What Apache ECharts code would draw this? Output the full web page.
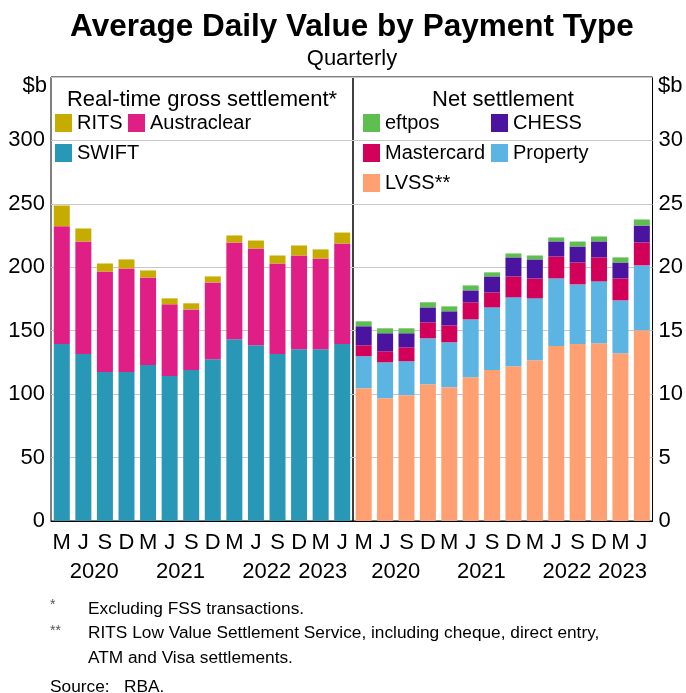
<!DOCTYPE html>
<html>
<head>
<meta charset="utf-8">
<script src="https://cdn.jsdelivr.net/npm/echarts@6/dist/echarts.min.js"></script>
<style>
  html, body { margin: 0; padding: 0; background: #fff; }
  #chart { width: 686px; height: 693px; }
</style>
</head>
<body>
<div id="chart"></div>
<script>
// quarters, Mar 2020 .. Jun 2023
const quarters = ["M", "J", "S", "D", "M", "J", "S", "D", "M", "J", "S", "D", "M", "J"];
const years = ["2020", "2021", "2022", "2023"];
const yearPos = [2, 6, 10, 12.6]; // position of year labels along the quarter axis

// real-time gross settlement, $b (left axis)
const swift = [139.6, 131.7, 117.5, 117.5, 123.0, 114.4, 119.1, 127.5, 143.2, 138.5, 131.7, 135.4, 135.4, 139.6];
const austraclear = [92.8, 88.7, 79.2, 81.6, 69.0, 56.4, 47.7, 60.6, 76.4, 76.3, 71.3, 73.9, 71.6, 79.2];
const rits = [16.3, 10.2, 6.3, 7.1, 5.5, 4.7, 4.8, 4.7, 5.5, 6.3, 6.3, 7.9, 7.1, 8.6];

// net settlement, $b (right axis)
const lvss = [10.47, 9.68, 9.92, 10.78, 10.55, 11.33, 11.91, 12.20, 12.67, 13.80, 13.96, 14.01, 13.22, 15.03];
const property = [2.52, 2.83, 2.67, 3.62, 3.54, 4.57, 4.93, 5.43, 4.88, 5.32, 4.69, 4.88, 4.17, 5.12];
const mastercard = [0.86, 0.87, 1.10, 1.26, 1.33, 1.34, 1.18, 1.65, 1.57, 1.73, 1.73, 1.89, 1.73, 1.81];
const chess = [1.50, 1.42, 1.11, 1.18, 1.11, 0.94, 1.26, 1.50, 1.50, 1.19, 1.26, 1.26, 1.26, 1.33];
const eftpos = [0.39, 0.39, 0.39, 0.40, 0.39, 0.39, 0.32, 0.31, 0.31, 0.31, 0.39, 0.39, 0.40, 0.48];

const FONT = "Liberation Sans, Arial, sans-serif";
const chart = echarts.init(document.getElementById("chart"));

function quarterAxis(gi) {
  return {
    type: "category",
    gridIndex: gi,
    data: quarters,
    axisLine: { lineStyle: { color: "#000", width: 1 } },
    axisTick: { inside: true, length: 4, lineStyle: { color: "#555" } },
    axisLabel: { interval: 0, fontSize: 22, color: "#000", fontFamily: FONT, margin: 11 },
    splitLine: { show: false },
  };
}

function yearAxis(gi) {
  return {
    type: "value",
    gridIndex: gi,
    min: 0,
    max: 14,
    interval: 0.2,
    position: "bottom",
    offset: 29,
    axisLine: { show: false },
    axisTick: { show: false },
    splitLine: { show: false },
    axisLabel: {
      fontSize: 22,
      color: "#000",
      fontFamily: FONT,
      margin: 11,
      formatter: function (v) {
        for (let i = 0; i < yearPos.length; i++) {
          if (Math.abs(v - yearPos[i]) < 0.05) return years[i];
        }
        return "";
      },
    },
  };
}

function valueAxis(gi, max, step, pos) {
  return {
    type: "value",
    gridIndex: gi,
    min: 0,
    max: max,
    interval: step,
    position: pos,
    axisLine: { show: false },
    axisTick: { show: false },
    axisLabel: {
      fontSize: 22,
      color: "#000",
      fontFamily: FONT,
      margin: 6,
      formatter: function (v) { return v >= max ? "" : v; },
    },
    splitLine: { lineStyle: { color: "#c8c8c8", width: 1 } },
  };
}

function bars(name, data, color, gi) {
  return {
    name: name,
    type: "bar",
    stack: "s" + gi,
    xAxisIndex: gi,
    yAxisIndex: gi,
    data: data,
    barWidth: 16,
    itemStyle: { color: color },
    emphasis: { disabled: true },
  };
}

const legendText = { fontSize: 20, color: "#000", fontFamily: FONT };
function legend(left, top, data) {
  return {
    left: left, top: top, orient: "vertical",
    data: data, icon: "rect", itemWidth: 17, itemHeight: 18,
    itemGap: 10, textStyle: legendText, padding: 0, selectedMode: false,
  };
}

function txt(text, left, top, size, extra) {
  return Object.assign({
    text: text, left: left, top: top, padding: 0,
    textStyle: { fontSize: size, lineHeight: size + 4, fontWeight: "normal", color: "#000", fontFamily: FONT },
  }, extra || {});
}

const noteStyle = (lh) => ({ fontSize: 17.3, lineHeight: lh, fontWeight: "normal", color: "#000", fontFamily: FONT });
const markStyle = { fontSize: 14, fontWeight: "normal", color: "#555", fontFamily: FONT };

const option = {
  animation: false,
  title: [
    txt("Average Daily Value by Payment Type", 352, 9, 31, { textAlign: "center",
      textStyle: { fontSize: 31.5, lineHeight: 36, fontWeight: "bold", color: "#000", fontFamily: FONT } }),
    txt("Quarterly", 352, 46, 22, { textAlign: "center" }),
    txt("Real-time gross settlement*", 202, 87, 22, { textAlign: "center" }),
    txt("Net settlement", 503, 87, 22, { textAlign: "center" }),
    txt("*", 50, 598, 14, { textStyle: markStyle }),
    txt("Excluding FSS transactions.", 88, 598, 17, { textStyle: noteStyle(22) }),
    txt("**", 50, 624, 14, { textStyle: markStyle }),
    txt("RITS Low Value Settlement Service, including cheque, direct entry,\nATM and Visa settlements.", 88, 621, 17, { textStyle: noteStyle(25) }),
    txt("Source:   RBA.", 50, 676, 17, { textStyle: noteStyle(22) }),
  ],
  graphic: [
    { type: "text", x: 47, y: 86, style: { text: "$b", align: "right", verticalAlign: "middle", fontSize: 22, fontFamily: FONT, fill: "#000" } },
    { type: "text", x: 658, y: 86, style: { text: "$b", align: "left", verticalAlign: "middle", fontSize: 22, fontFamily: FONT, fill: "#000" } },
  ],
  legend: [
    legend(55, 113, ["RITS", "SWIFT"]),
    legend(128, 113, ["Austraclear"]),
    legend(363, 113, ["eftpos", "Mastercard", "LVSS**"]),
    legend(491, 113, ["CHESS", "Property"]),
  ],
  grid: [
    { left: 51, top: 77, width: 302, height: 444, show: true, borderColor: "#000", borderWidth: 1, backgroundColor: "transparent" },
    { left: 353, top: 77, width: 300, height: 444, show: true, borderColor: "#000", borderWidth: 1, backgroundColor: "transparent" },
  ],
  xAxis: [quarterAxis(0), quarterAxis(1), yearAxis(0), yearAxis(1)],
  yAxis: [valueAxis(0, 350, 50, "left"), valueAxis(1, 35, 5, "right")],
  series: [
    bars("SWIFT", swift, "#2997b6", 0),
    bars("Austraclear", austraclear, "#df1f85", 0),
    bars("RITS", rits, "#c7ac00", 0),
    bars("LVSS**", lvss, "#ffa072", 1),
    bars("Property", property, "#5cb4e2", 1),
    bars("Mastercard", mastercard, "#d3005a", 1),
    bars("CHESS", chess, "#4a14a0", 1),
    bars("eftpos", eftpos, "#5ebe50", 1),
  ],
};
chart.setOption(option);
</script>
</body>
</html>
